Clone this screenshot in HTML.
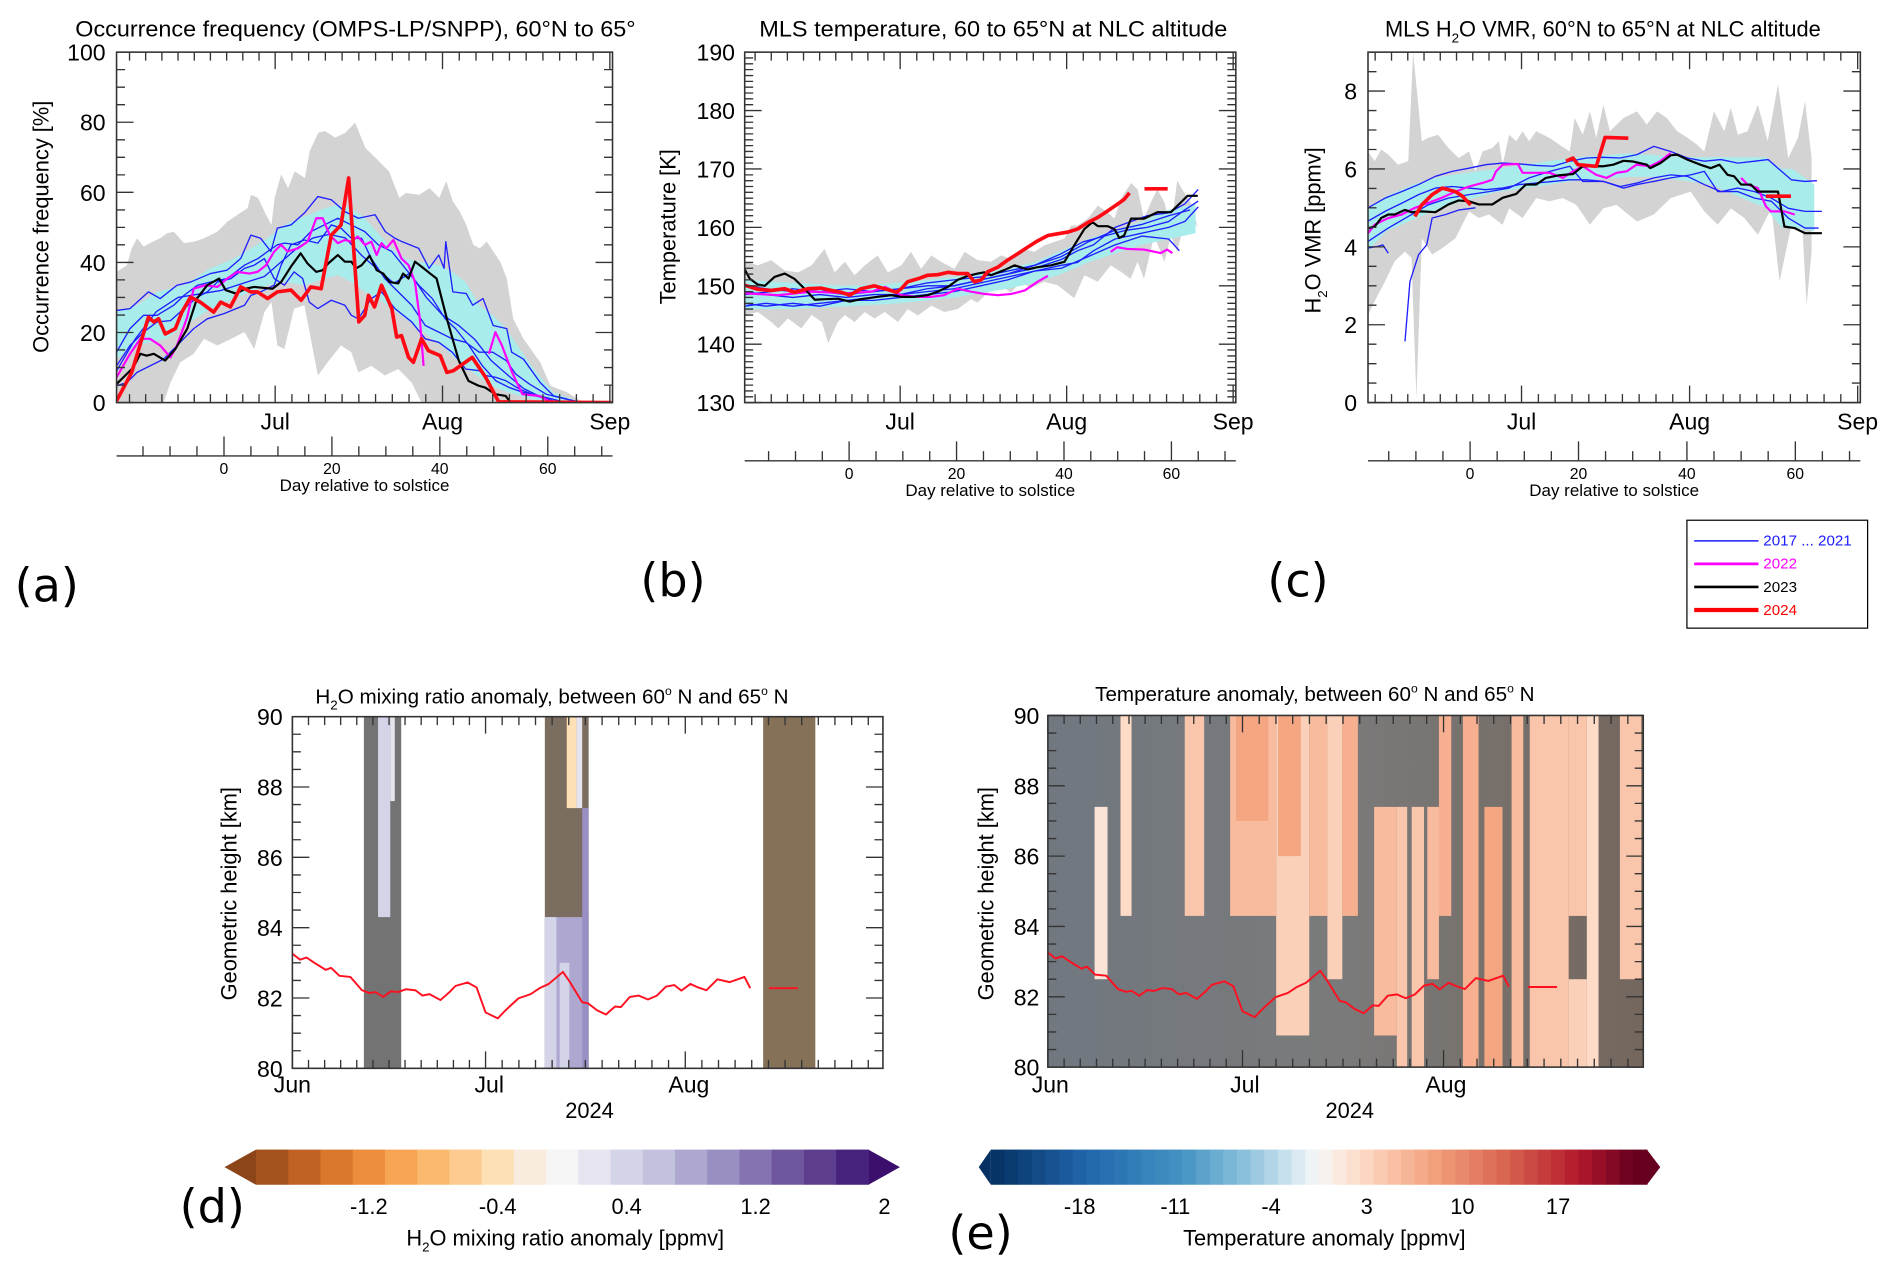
<!DOCTYPE html>
<html><head><meta charset="utf-8"><title>NLC climatology figure</title>
<style>
html,body{margin:0;padding:0;background:#fff;}
svg{display:block;font-family:"Liberation Sans",sans-serif;}
</style></head>
<body>
<svg id="fig" xmlns="http://www.w3.org/2000/svg" width="1892" height="1266" viewBox="0 0 1560 1044">
<defs>
<linearGradient id="eGrey" x1="0" x2="1" y1="0" y2="0">
<stop offset="0" stop-color="#717880"/><stop offset="0.5" stop-color="#7a7a7a"/><stop offset="1" stop-color="#74675d"/>
</linearGradient>
</defs>
<text x="12" y="496" font-size="38" font-family="DejaVu Sans, sans-serif">(a)</text>
<text x="528" y="492" font-size="38" font-family="DejaVu Sans, sans-serif">(b)</text>
<text x="1045" y="492" font-size="38" font-family="DejaVu Sans, sans-serif">(c)</text>
<text x="148" y="1008" font-size="38" font-family="DejaVu Sans, sans-serif">(d)</text>
<text x="782" y="1030" font-size="38" font-family="DejaVu Sans, sans-serif">(e)</text>
<text x="62" y="30" font-size="18" textLength="462" lengthAdjust="spacingAndGlyphs">Occurrence frequency (OMPS-LP/SNPP), 60°N to 65°</text>
<text x="626" y="30" font-size="18" textLength="386" lengthAdjust="spacingAndGlyphs">MLS temperature, 60 to 65°N at NLC altitude</text>
<text x="1142" y="30" font-size="18">MLS H<tspan font-size="11" dy="5">2</tspan><tspan dy="-5">O VMR, 60°N to 65°N at NLC altitude</tspan></text>
<text x="260" y="580" font-size="17">H<tspan font-size="11" dy="5">2</tspan><tspan dy="-5">O mixing ratio anomaly, between 60</tspan><tspan font-size="10" dy="-7">o</tspan><tspan dy="7"> N and 65</tspan><tspan font-size="10" dy="-7">o</tspan><tspan dy="7"> N</tspan></text>
<text x="903" y="578" font-size="17">Temperature anomaly, between 60<tspan font-size="10" dy="-7">o</tspan><tspan dy="7"> N and 65</tspan><tspan font-size="10" dy="-7">o</tspan><tspan dy="7"> N</tspan></text>
<text transform="translate(40,187) rotate(-90)" text-anchor="middle" font-size="18">Occurrence frequency [%]</text>
<text transform="translate(557,187) rotate(-90)" text-anchor="middle" font-size="18">Temperature [K]</text>
<text transform="translate(1089,190) rotate(-90)" text-anchor="middle" font-size="18">H<tspan font-size="11" dy="5">2</tspan><tspan dy="-5">O VMR [ppmv]</tspan></text>
<text transform="translate(195,737) rotate(-90)" text-anchor="middle" font-size="18">Geometric height [km]</text>
<text transform="translate(819,737) rotate(-90)" text-anchor="middle" font-size="18">Geometric height [km]</text>
<g>
<rect x="1391" y="429" width="149" height="89" fill="#fff" stroke="#000" stroke-width="1"/>
<line x1="1397" y1="446" x2="1450" y2="446" stroke="#1a1aff" stroke-width="1.2"/>
<text x="1454" y="450" font-size="12.5" fill="#1a1aff">2017 ... 2021</text>
<line x1="1397" y1="465" x2="1450" y2="465" stroke="#ff00ff" stroke-width="2.2"/>
<text x="1454" y="469" font-size="12.5" fill="#ff00ff">2022</text>
<line x1="1397" y1="484" x2="1450" y2="484" stroke="#000" stroke-width="2.2"/>
<text x="1454" y="488" font-size="12.5" fill="#000">2023</text>
<line x1="1397" y1="503" x2="1450" y2="503" stroke="#ff0000" stroke-width="3.5"/>
<text x="1454" y="507" font-size="12.5" fill="#ff0000">2024</text>
</g>
<text x="466" y="1027" text-anchor="middle" font-size="18">H<tspan font-size="11" dy="5">2</tspan><tspan dy="-5">O mixing ratio anomaly [ppmv]</tspan></text>
<text x="1092" y="1027" text-anchor="middle" font-size="18">Temperature anomaly [ppmv]</text>
</svg>
<script>
const aGreyTop=[[0.6,37.3],[2.5,39.2],[3.4,44],[4.4,46.9],[5.6,44.5],[6.8,45.5],[8.7,46.9],[9.9,48.3],[11.2,48.8],[13.1,45.5],[15,45.9],[16.8,46.9],[19.3,48.8],[21.2,51.7],[23,53.6],[24.9,55.5],[25.5,59.3],[26.8,58.4],[28.3,53.6],[29.3,50.7],[29.9,58.4],[31.1,65.1],[32.4,61.2],[33.6,66],[35.5,64.1],[36.4,71.8],[38,77],[39.2,77.5],[41.1,75.6],[43,77],[44.8,79.9],[46.7,72.7],[49.2,68.9],[51.1,66],[53,58.4],[54.2,59.8],[56.7,59.3],[58.6,61.2],[60.4,58.4],[61.7,63.2],[62.9,57.4],[64.2,54.5],[65.4,50.7],[66.7,45],[67.9,44],[69.2,45.9],[71.7,40.2],[72.9,35.4],[74.1,23.9],[76,18.2],[79.1,11.5],[81,4.8],[84.1,2.9],[86.6,0.5],[92.5,0]];
const aGreyBot=[[0.6,0],[9.3,0],[10.6,5.7],[12.4,11.5],[14.9,13.9],[16.8,18.2],[19.3,16.3],[21.8,18.2],[24.3,20.1],[26.1,15.3],[28,25.8],[29.3,28.7],[30.4,16.3],[31.7,15.3],[33.5,26.8],[35.4,27.8],[37.9,7.7],[39.7,11.5],[42.2,16.3],[44.1,14.4],[45.4,8.6],[47.8,10.5],[50.3,7.7],[52.8,9.6],[55.3,5.7],[57.1,0],[92.5,0]];
const aCyanTop=[[0.6,25.8],[4.4,27.8],[8.1,31.6],[13.1,33.5],[18,38.3],[22.4,41.1],[25.5,44],[28.6,46.9],[31.7,50.7],[35.4,53.1],[39.2,55.5],[41.6,56.5],[44.1,55.5],[46.6,52.6],[49.1,48.3],[51.6,44],[54.1,41.1],[56.6,40.2],[60.3,39.2],[62.8,37.3],[65.3,34.4],[67.8,27.8],[70.3,24.9],[72.8,21.1],[75.3,15.3],[78.4,8.6],[81.5,2.9],[85.9,0.5]];
const aCyanBot=[[0.6,12.4],[4.4,16.3],[6.8,17.2],[9.9,18.2],[13.1,22],[16.2,24.9],[19.3,27.8],[22.4,29.7],[25.5,31.6],[28.6,33.5],[31.7,34.4],[35.4,33.5],[39.2,35.4],[41.6,36.4],[44.1,34.4],[46.6,31.6],[49.1,29.7],[51.6,26.8],[54.1,23.9],[56.6,21.1],[59.1,18.2],[61.6,15.3],[64.1,11.5],[66.6,8.6],[69.1,5.7],[71.5,3.8],[75.3,1.9],[79,0.5],[85.9,0.2]];
const aBlue1=[[0.6,26.3],[3.1,26.8],[6.5,31.6],[8.7,29.7],[11.8,33.5],[14.3,34.4],[18,36.8],[21.1,37.8],[23.6,41.1],[25.5,47.8],[27.3,46.9],[29.2,43.1],[30.4,49.8],[32.9,50.7],[35.4,54.1],[37.9,58.8],[40.4,57.9],[42.9,54.5],[45.4,52.6],[48.5,53.6],[50.4,48.8],[52.2,46.9],[53.5,45.9],[56.6,44],[58.5,38.3],[60.3,42.1],[61.3,38.3],[61.6,45.9],[62.9,31.6],[65.4,31.1],[66.6,27.8],[68.5,29.7],[70.4,22],[72.9,21.1],[73.8,14.4],[76,12.4],[79.1,5.7],[81.6,1.9],[84.1,1]];
const aBlue2=[[0.6,10.5],[3.1,16.3],[5.6,20.1],[8.1,23],[10.6,23.4],[13.1,26.8],[15.6,30.1],[17.4,31.6],[19.3,34.4],[21.8,35.4],[24.3,38.3],[26.1,39.2],[28,41.1],[29.8,35.4],[31.7,33.5],[33.5,37.3],[35.1,35.4],[36.3,28.7],[37.9,26.8],[40.4,29.2],[42.9,27.8],[44.1,24.9],[45.4,23.9],[47.8,29.7],[49.7,31.6],[52.2,26.8],[55.3,23],[57.8,18.2],[60.3,17.2],[62.8,14.4],[65.3,9.6],[67.8,9.1],[69,7.7],[70.9,7.2],[72.8,6.2],[75.3,3.8],[78.4,1.9],[81.5,0.5]];
const aBlue3=[[0.6,4.8],[2.5,5.7],[4.4,8.6],[6.8,10.5],[9.3,12.4],[12.4,17.2],[14.9,21.1],[17.4,23.9],[20.5,25.4],[24.3,27.8],[25.5,30.6],[27.3,31.6],[29.8,33.5],[31.1,39.2],[32.9,45],[35.4,46.4],[37.9,45.5],[40.4,50.7],[42.2,49.8],[44.1,46.9],[46,46.9],[47.8,41.1],[50.3,35.4],[52.8,31.6],[55.3,27.8],[57.8,22],[60.3,20.1],[62.8,18.2],[65.3,17.2],[67.8,14.4],[70.3,14.4],[72.8,12],[74.6,8.1],[77.1,5.3],[80.2,2.4],[83.9,1],[86.4,0.2]];
const aBlue4=[[0.6,14.4],[3.1,21.1],[5.6,24.9],[8.1,24.9],[11.2,27.8],[13.1,30.6],[15.6,33.5],[18,34.4],[21.1,35.4],[24.3,39.2],[26.8,41.1],[28.6,43.1],[30.4,45],[31.7,45.5],[34.2,45],[36.6,48.8],[39.1,50.7],[41.6,52.6],[44.1,50.7],[46.6,48.8],[49.1,45],[51.6,43.1],[54.1,38.3],[56.6,33.5],[59.1,29.7],[61.5,23.9],[63.4,21.1],[65.9,16.3],[68.4,10.5],[70.9,6.2],[73.4,4.3],[75.9,2.9],[79,1.9],[82.7,0.5]];
const aBlue5=[[0.6,9],[4,18],[8,26],[12,30],[16,31],[20,32],[24,34],[28,36],[31,40],[34,44],[37,47],[40,48],[43,47],[46,42],[49,38],[52,34],[55,37],[58,30],[61,25],[64,22],[67,18],[70,12],[73,8],[76,4],[80,1]];
const aMagenta1=[[0.6,7.2],[3.1,13.9],[5,18.2],[6.8,18.2],[8.7,16.3],[10.6,12.9],[11.8,16.3],[13.7,24.4],[14.9,32.5],[17.1,33.5],[19.3,33],[21.1,35.4],[23,37.3],[25.2,36.8],[26.7,37.3],[28.3,39.2],[29.8,43.1],[31.1,45],[32.3,43.1],[34.2,44],[36,45.9],[37.6,52.6],[38.8,52.6],[40.1,47.8],[41.6,45.5],[42.9,46.4],[44.1,45.9],[45.3,47.4],[46.6,45],[47.8,45.9],[48.8,42.1],[49.7,45.5],[50.6,44],[51.9,46.4],[53.4,41.1],[54.7,39.2],[55.9,34.4],[56.8,23.9],[57.5,10.5]];
const aMagenta2=[[69.6,13.9],[70.8,20.1],[72,16.3],[73.9,8.6],[75.8,2.4],[78.9,1.9],[80.7,0.5],[84,0]];
const aBlack=[[0.6,5.3],[3.7,10],[5,13.9],[6.2,13.4],[7.5,13.9],[9.6,12],[11.5,15.3],[13.7,21.1],[15.5,29.7],[17.4,33.5],[19.6,35.4],[20.8,32.1],[22.7,31.1],[24.5,32.5],[26.1,33],[29.5,32.5],[31.1,34.4],[32.9,38.8],[34.7,42.6],[36,39.7],[37.6,37.3],[38.8,37.8],[39.8,39.7],[41.6,42.1],[42.9,40.2],[44.1,40.2],[45,38.3],[46,39.2],[47.5,41.9],[48.8,37.8],[50,36.8],[51.2,34.4],[52.8,34],[53.7,36.8],[54.7,35.4],[55.9,40.2],[57.1,38.8],[58.7,36.8],[59.9,35.4],[61.8,23.9],[64,12],[65.8,6.2],[67.7,4.8],[68.9,4.3],[70.8,2.4],[72.7,1.9],[73.6,0],[80,0]];
const aRed=[[0.6,0.5],[3.4,8.6],[6.5,24.4],[7.5,23],[8.4,23.9],[9.6,19.6],[11.5,21.1],[12.7,25.8],[14.3,30.1],[16.1,28.7],[18.6,25.8],[19.9,28.7],[21.7,27.3],[23.6,33],[25.5,31.6],[26.7,31.6],[28.6,29.7],[30.4,31.6],[32.9,32.1],[34.8,29.2],[36.6,33],[38.5,32.5],[40.4,47.8],[42.2,50.7],[43.6,64.1],[45.5,23],[46.6,24.9],[47.3,30.6],[48.4,27.3],[49.7,33.5],[51.6,26.8],[52.5,18.7],[53.4,19.1],[54.7,12.9],[55.6,11.5],[57.1,18.2],[58.4,14.8],[60.6,13.4],[61.8,8.6],[63,9.1],[66.5,12.9],[69,7.2],[71.4,0.2],[92.3,0]];
const aYTicks=[0,20,40,60,80,100];

const bGreyTop=[[1.05,154.1],[3.5,153.5],[6,154.4],[8.5,152.6],[11,152.3],[13.5,153.5],[15.9,156.3],[17.8,152.3],[19.7,154.1],[21.5,151.8],[23.4,153.5],[25.8,155.2],[27.7,152.3],[30.2,153.5],[32,155.8],[33.9,152.9],[35.8,155.2],[37.6,154.1],[40.1,152.9],[42,155.8],[44.4,154.4],[46.9,154.1],[48.8,155.2],[50.6,154.6],[53.1,156.3],[55,155.8],[56.8,156.9],[58.7,157.5],[60.6,158.1],[61.8,160.3],[63,160.3],[64.9,161.5],[66.8,163.7],[68.6,162.6],[69.9,161.5],[71.1,164.9],[73,167.6],[74.2,166.5],[75.4,161.5],[76.7,164.3],[77.9,166.5],[79.2,164.3],[80.4,159.7],[81.6,168],[82.9,165.9],[84.1,164.3],[85.4,160]];
const bGreyBot=[[1.05,145],[3.5,145.5],[6,143.8],[7.3,142.7],[9.1,144.4],[11.6,142.7],[13.5,145],[15.4,143.8],[16.6,140.2],[18.4,143.8],[19.7,145],[21.5,143.8],[23.4,145.5],[25.2,144.4],[27.1,145.5],[29.6,143.8],[31.4,146],[33.3,144.9],[35.8,146.6],[38.2,145.5],[40.7,146],[43.2,147.7],[44.4,147.1],[46.3,148.8],[48.8,150.1],[50.6,148.8],[52.5,150.7],[54.3,149.6],[56.8,150.7],[59.3,150.1],[62.4,147.9],[64.3,151.8],[66.8,150.7],[69.2,153.5],[71.1,152.4],[72.9,151.2],[74.2,154.1],[75.4,151.2],[77.3,158.6],[79.2,154.1],[80.4,158.6],[81.6,155.8],[82.9,160.8],[84.1,162],[85.4,160]];
const bCyanTop=[[1.05,151],[10,150.5],[20,150],[30,150.5],[40,151.5],[50,153],[55,154],[60,156],[65,158],[70,159.5],[75,161],[80,163],[85,164]];
const bCyanBot=[[1.05,146],[10,146],[20,146.5],[30,147],[40,148],[50,149.5],[55,150.5],[60,152],[65,154],[70,155.5],[75,157],[80,158],[85,159]];
const bBlue1=[[1.05,149],[5,148.5],[10,148],[15,148.5],[20,148],[25,148.5],[30,148.5],[35,149.5],[40,150],[45,151],[50,152],[55,153],[60,154.5],[63,156],[66,157],[70,160],[73,161],[76,162],[80,162.5],[83,164],[85.5,166.5]];
const bBlue2=[[1.05,147],[5,146.5],[10,147],[15,146.5],[20,147.5],[25,147.5],[30,148],[35,148.5],[40,149],[45,150],[50,151],[55,152.5],[60,153.5],[63,154],[66,156],[70,158],[75,159],[80,160],[83,161],[85.5,163.5]];
const bBlue3=[[1.05,148.5],[6,149],[10,149.5],[15,149],[20,149.5],[25,149],[30,149.5],[35,150.5],[40,151],[45,151.5],[50,152.5],[55,153.5],[60,155.5],[64,157.5],[68,158.5],[72,159.5],[76,160],[80,161],[83,163],[85.5,164.5]];
const bBlue4=[[1.05,146.5],[5,147],[10,146.5],[15,147],[20,147.5],[25,148],[30,148.5],[35,149],[40,149.5],[45,150.5],[50,151.5],[55,152.5],[60,153],[65,155],[70,157],[75,158.5],[80,158],[82,156]];
const bBlue5=[[1.05,150],[5,149.5],[10,149],[15,149],[20,148.5],[25,149],[30,149.5],[35,150],[40,150],[45,151],[50,152],[55,153.5],[60,155],[65,157.5],[70,159.5],[75,160.5],[80,162],[84,163]];
const bMagenta1=[[1.05,148.7],[7.3,148.4],[13.5,149],[19.7,148.7],[24.7,149],[27.2,149.8],[30.2,148.4],[33.3,148.1],[35.8,148.1],[38.2,148.4],[40.7,149.5],[43.2,149],[45.7,148.6],[48.2,148.4],[50.7,148.6],[53.2,149.2],[55.6,150.7],[57.5,151.7]];
const bMagenta2=[[69.2,155.8],[70.4,156.6],[72.3,156.3],[75.4,156.2],[78.5,155.6],[79.7,156.2],[80.7,155.6]];
const bBlack=[[1.05,152.8],[2,151.2],[3.5,150.2],[4.8,150],[6.6,151.5],[8.5,152.1],[10.3,151.2],[12.2,149.5],[14.1,147.6],[15.9,147.7],[18.4,147.8],[20.6,147.3],[22.7,147.7],[25.8,148.1],[28.3,148.4],[30.2,148.1],[32.7,148.1],[35.1,148.4],[37,149],[38.9,149.8],[40.7,151],[42.6,151.7],[44.4,152.1],[45.7,152.3],[46.9,151.8],[49.4,152.7],[51.3,153.5],[53.7,152.8],[55.6,153.2],[58.1,153.5],[60.6,154.1],[62.4,156.9],[64.3,159.7],[65.8,160.9],[66.8,160.2],[68.6,160.2],[69.9,159.7],[70.8,158.2],[71.7,158.6],[73,161.5],[75.4,161.5],[77.9,162.6],[80.4,162.6],[82.3,164.3],[83.5,165.4],[85.4,165.4]];
const bRed1=[[1.05,150.1],[3.5,149.4],[6,149.2],[8.5,149.5],[10.3,148.9],[12.8,149.5],[15.3,149.6],[17.2,149.2],[19,148.9],[20.6,148.4],[22.7,149.5],[25.2,150],[27.1,149.5],[29.3,148.9],[30.2,149.5],[31.4,150.7],[33.3,151.2],[35.1,151.8],[37,151.9],[38.9,152.3],[40.7,152.1],[42.6,152.1],[43.8,150.7],[45.1,151],[46.3,152.4],[48.2,153.2],[50,154.4],[51.9,155.5],[53.7,156.6],[55.6,157.7],[57.5,158.6],[59.3,158.9],[61.2,159.2],[63,159.7],[64.9,160.8],[66.8,161.7],[68.6,162.8],[70.5,164],[71.7,164.8],[72.7,165.9]];
const bRed2=[[75.5,166.6],[79.8,166.6]];
const bYTicks=[130,140,150,160,170,180,190];

const cGreyTop=[[1.67,6.45],[2.9,6.2],[4.1,6.5],[5.4,6.37],[7.2,6.11],[9.1,6.2],[10,9],[11.6,6.71],[12.8,6.8],[14.6,6.88],[16.5,6.54],[18.4,6.28],[20.3,6.45],[21.5,5.94],[22.8,6.45],[24.6,6.54],[25.8,6.71],[26.5,6.11],[27.7,6.88],[29,6.71],[30.2,6.97],[31.4,6.71],[32.7,6.97],[35.1,6.8],[37,6.62],[38.9,6.45],[39.8,7.31],[41.3,6.88],[42.6,7.48],[43.8,6.8],[45.1,7.65],[46.3,6.97],[48.8,7.31],[51.3,7.48],[53.1,7.14],[55,7.48],[56.8,7.31],[58.7,6.97],[60.6,6.8],[62.4,6.62],[63.7,6.45],[65.5,7.48],[67.4,6.97],[68.6,7.57],[69.9,6.88],[71.7,6.97],[73.6,7.65],[75.4,6.71],[77.3,8.17],[79.2,6.28],[81,6.8],[82.3,7.74],[83.5,6.28]];
const cGreyBot=[[1.67,2.25],[3.5,2.77],[4.8,3.11],[6.6,3.63],[8.5,3.88],[9.7,3.71],[10.6,0.11],[11.6,4.22],[13.5,3.8],[15.4,3.97],[17.8,4.22],[20.3,4.91],[22.1,4.74],[24,4.83],[26.5,4.57],[27.7,4.99],[30.2,4.74],[32.7,5.25],[35.1,5.17],[37.6,5.25],[40.1,5.08],[42.6,4.57],[45.1,4.99],[47.5,5.08],[51.3,4.65],[54.4,4.83],[57.5,5.25],[61.2,5.42],[63.7,4.91],[66.2,4.57],[68.6,4.99],[71.1,4.74],[73.6,4.31],[76.1,4.99],[77.6,3.11],[79.8,4.57],[81.6,4.99],[82.6,2.51],[83.5,3.88]];
const cCyanTop=[[1.67,5],[5,5.3],[10,5.6],[15,5.8],[20,5.9],[25,6],[30,6.1],[35,6.2],[40,6.3],[45,6.35],[50,6.4],[55,6.35],[60,6.3],[65,6.3],[70,6.3],[75,6.3],[78,6],[80,6],[84,5.6]];
const cCyanBot=[[1.67,3.9],[5,4.4],[10,4.7],[15,5],[20,5.2],[25,5.4],[30,5.5],[35,5.6],[40,5.7],[45,5.75],[50,5.8],[55,5.8],[60,5.7],[65,5.6],[70,5.3],[75,5],[78,4.5],[80,4.5],[84,4.4]];
const cBlue1=[[8.5,1.57],[9.4,3.11],[11,3.8],[12.5,4.05],[13.5,4.74],[16,4.83],[18.5,4.95],[21.5,5]];
const cBlue2=[[1.67,3.97],[3.5,4.01],[4.4,4.05],[5.4,3.84]];
const cBlue3=[[1.67,5],[4.8,5.25],[7.9,5.42],[11,5.6],[14.1,5.81],[17.2,5.94],[20.3,6.02],[23.4,6.11],[26.5,6.15],[29.6,6.13],[32.7,6.09],[35.8,6.07],[38.9,6.2],[42,6.28],[45.1,6.3],[48.2,6.28],[51.3,6.37],[54.4,6.58],[57.5,6.45],[60.6,6.28],[63.7,6.2],[66.8,6.24],[69.9,6.15],[73,6.2],[75.5,6.24],[77.3,6.02],[79.8,5.72],[82.3,5.68],[84.5,5.7]];
const cBlue4=[[1.67,4.66],[4.8,4.91],[7.9,5.12],[11,5.34],[14.1,5.51],[17.2,5.55],[20.3,5.51],[23.4,5.47],[26.5,5.51],[29.6,5.6],[32.7,5.64],[35.8,5.68],[38.9,5.72],[42,5.72],[45.1,5.68],[48.2,5.55],[51.3,5.64],[54.4,5.77],[57.5,5.85],[60.6,5.81],[63.7,5.6],[66.8,5.42],[69.9,5.51],[73,5.42],[76.1,5.25],[79.2,4.99],[82.3,4.91],[85.4,4.91]];
const cBlue5=[[1.67,4.14],[5.4,4.48],[9.1,4.78],[12.8,5.08],[16.5,5.25],[20.3,5.34],[24,5.42],[27.7,5.51],[31.4,5.77],[35.2,5.94],[38.9,6.07],[41.3,5.68],[45.1,5.68],[48.8,5.51],[51.3,5.6],[54.4,5.68],[57.5,5.77],[61.2,5.85],[63.7,5.94],[66.2,5.42],[69.9,5.42],[73,5.25],[76.1,5.17],[79.2,4.74],[82.3,4.48],[84.8,4.48]];
const cMagenta1=[[1.67,4.35],[2.9,4.57],[5.4,4.74],[7.9,4.83],[10.3,5],[12.8,5.13],[15.3,5.26],[17.8,5.42],[20.3,5.55],[22.8,5.64],[24.6,5.72],[25.3,5.94],[26.5,6.11],[29.3,6.13],[30.2,5.9],[32.1,5.9],[35.2,5.9],[37.6,5.77],[39.5,5.94],[41.3,6.07],[43.8,5.85],[45.7,5.77],[47.5,5.9],[49.4,5.94],[51.2,6.11],[53.7,6.07],[55.6,6.2],[57.5,6.41]];
const cMagenta2=[[70.5,5.77],[71.7,5.6],[73.6,5.51],[75.1,5.04],[76,4.91],[78.5,4.91],[80.4,4.83]];
const cBlack=[[1.67,4.48],[2.9,4.52],[4.1,4.74],[5.4,4.83],[6.6,4.83],[8.5,4.95],[9.7,4.89],[11.6,4.91],[14.1,4.89],[16.5,5.09],[18.4,5.19],[20.3,5.17],[22.1,5.09],[24.6,5.09],[26.5,5.26],[29,5.36],[30.8,5.6],[32.7,5.6],[34.5,5.77],[37,5.84],[39.5,5.87],[41.3,6.07],[43.2,6.07],[45.1,6.07],[46.9,6.11],[48.8,6.21],[50.6,6.19],[53.1,6.11],[53.7,6.02],[55.6,6.15],[57.5,6.35],[58.7,6.37],[60.6,6.24],[63,6.11],[64.9,6.02],[66.5,6.11],[68,5.85],[69.2,5.81],[70.5,5.6],[72.3,5.6],[73.6,5.42],[77.3,5.42],[78.5,4.52],[80.4,4.48],[82.3,4.35],[85.4,4.35]];
const cRed1=[[10.3,4.78],[11.6,5.08],[13.5,5.34],[15.4,5.51],[17.8,5.42],[19.1,5.3],[20.6,5.08]];
const cRed2=[[38.2,6.2],[39.5,6.28],[40.4,6.11],[43.8,6.07],[45.4,6.81],[49.7,6.79]];
const cRed3=[[75.1,5.3],[79.7,5.3]];
const cYTicks=[0,2,4,6,8];

const nlcDays=[0,1.2,2.2,3.4,5.2,6,7.3,9,10.8,12,12.9,14.1,15.3,16.4,17.6,19.1,20.2,21.3,23,24.4,25.3,27.2,28.6,30,31.9,33.1,35.1,37,38.4,39.8,42,43.1,45,45.9,47.3,48.7,50.1,51,52.4,53.8,55.2,56.6,58,59.3,60.4,61.8,63,64.3,66,67.9,70.2,71.1];
const nlcHeight=[83.26,83.09,83.15,83,82.8,82.86,82.63,82.6,82.22,82.14,82.17,82.03,82.19,82.17,82.25,82.22,82.07,82.11,81.94,82.17,82.34,82.44,82.3,81.59,81.42,81.65,81.99,82.11,82.28,82.4,82.74,82.45,81.88,81.85,81.65,81.53,81.76,81.74,82.03,82.07,81.96,82.07,82.32,82.37,82.21,82.4,82.3,82.22,82.53,82.45,82.6,82.28];
const nlcSegDays=[74,78.5];
const nlcSegHeight=[82.28,82.28];
const dBands=[[11.1,16.9],[39.2,46.0],[73.1,81.2]];
const dBandTint=['#737373','#7b6e61','#857058'];
const dCells=[[13.3,15.2,90,84.3,0.3],[15.2,15.9,90,87.6,0.1],[39.2,46.0,84.3,80,0.7],[39.2,41.0,84.3,80,0.3],[42.6,44.1,90,87.4,-0.5],[44.1,45,90,87.4,0.1],[45,46,87.4,80,0.9],[41.5,43.0,83,80,0.4]];
const dCbValues=[-1.8,-1.6,-1.4,-1.2,-1.0,-0.8,-0.6,-0.4,-0.2,0,0.2,0.4,0.6,0.8,1.0,1.2,1.4,1.6,1.8];
const dCbLabels=['-1.2','-0.4','0.4','1.2','2'];
const dCbLabelVals=[-1.2,-0.4,0.4,1.2,2.0];
const eCells=[[7.2,9.2,87.4,82.5,2],[11.2,12.9,90,84.3,3],[21.1,24.1,90,84.3,5],[28.1,35.2,90,84.3,6],[29,34,90,87,8],[35.2,40.3,90,80.9,4],[35.5,39,90,86,8],[40.3,43.1,90,84.3,6],[43.1,45.4,90,82.5,4],[45.4,47.8,90,84.3,7],[50.3,53.8,87.4,80.9,6],[53.8,55.4,87.4,80,5],[56.1,58,87.4,80,5],[58.5,60.3,87.4,82.5,6],[60.3,62.2,90,84.3,7],[64,66.4,90,80,7],[67.3,70.1,87.4,80,8],[71.5,73.3,90,80,6],[74.3,80.3,90,80,5],[80.3,83.1,90,84.3,5],[80.3,83.1,82.5,80,4],[83.1,84.9,90,80,3],[88.2,91.5,90,82.5,5]];
const eCbMin=-24, eCbMax=23;
const eCbLabels=['-18','-11','-4','3','10','17'];
const eCbLabelVals=[-18,-11,-4,3,10,17];

const NS='http://www.w3.org/2000/svg';
const svg=document.getElementById('fig');
function mk(tag,parent){const e=document.createElementNS(NS,tag);parent.appendChild(e);return e;}
function at(e,o){for(const k in o)e.setAttribute(k,o[k]);return e;}
function lin(d0,d1,r0,r1){return v=>r0+(v-d0)*(r1-r0)/(d1-d0);}
const MONTH_START=[0,30,61,92];
let clipN=0;

function makePanel(name,x0,x1,dmin,dmax,y0,y1,vmin,vmax){
  const X=lin(dmin,dmax,x0,x1), Y=lin(vmin,vmax,y0,y1);
  const defs=svg.querySelector('defs');
  const cp=mk('clipPath',defs); cp.setAttribute('id','clip'+(++clipN));
  at(mk('rect',cp),{x:x0,y:y1,width:x1-x0,height:y0-y1});
  const g=mk('g',svg);
  
  
  g.setAttribute('clip-path','url(#clip'+clipN+')');
  return {X,Y,g,x0,x1,y0,y1,dmin,dmax,vmin,vmax,name};
}
function path(pts,P){return pts.map((p,i)=>(i?'L':'M')+P.X(p[0]).toFixed(1)+','+P.Y(p[1]).toFixed(1)).join('');}
function band(P,top,bot,fill,nm){
  const pts=top.concat(bot.slice().reverse());
  const e=mk('path',P.g);
  
  
  at(e,{d:path(pts,P)+'Z',fill:fill,stroke:'none'});
}
function line(P,pts,color,w,nm){
  const e=mk('path',P.g);
  
  
  at(e,{d:path(pts,P),fill:'none',stroke:color,'stroke-width':w,'stroke-linejoin':'round'});
}
function frame(P,yMinor,yMajor,yLabels,labelX,monthLabels,xDiv){
  const g=mk('g',svg);
  
  
  at(mk('rect',g),{x:P.x0,y:P.y1,width:P.x1-P.x0,height:P.y0-P.y1,fill:'none',stroke:'#333','stroke-width':1.3});
  let d='';
  for(let m=0;m<MONTH_START.length-1;m++){
    const a=MONTH_START[m],b=MONTH_START[m+1];
    for(let k=0;k<xDiv;k++){
      const day=a+(b-a)*k/xDiv; if(day<P.dmin||day>P.dmax)continue;
      const x=P.X(day).toFixed(1), L=k===0?14:7;
      d+='M'+x+','+P.y0+'v-'+L+'M'+x+','+P.y1+'v'+L;
    }
  }
  if(92>=P.dmin&&92<=P.dmax){const x=P.X(92).toFixed(1);d+='M'+x+','+P.y0+'v-14M'+x+','+P.y1+'v14';}
  for(let v=P.vmin;v<=P.vmax+1e-6;v+=yMinor){
    const y=P.Y(v).toFixed(1);
    const maj=Math.abs(v/yMajor-Math.round(v/yMajor))<1e-6, L=maj?14:7;
    d+='M'+P.x0+','+y+'h'+L+'M'+P.x1+','+y+'h-'+L;
  }
  at(mk('path',g),{d:d,stroke:'#333','stroke-width':1.1,fill:'none'});
  yLabels.forEach(v=>{
    const t=mk('text',g);
    
    
    at(t,{x:labelX,y:P.Y(v)+7,'text-anchor':'end','font-size':19});
    t.textContent=String(v);
  });
  monthLabels.forEach(ml=>{
    const t=mk('text',g);
    
    
    at(t,{x:P.X(ml[1])+(ml[3]||0),y:ml[2]+2,'text-anchor':'middle','font-size':19});
    t.textContent=ml[0];
  });
}
function solsticeAxis(P,yLine,nm){
  const g=mk('g',svg);
  
  
  const SOL=20.5;
  let d='M'+P.x0+','+yLine+'H'+P.x1;
  for(let r=-20;r<=75;r+=5){
    const day=SOL+r; if(day<P.dmin||day>P.dmax)continue;
    const x=P.X(day).toFixed(1); d+='M'+x+','+yLine+'v-'+(r%20===0?16:8);
  }
  at(mk('path',g),{d:d,stroke:'#333','stroke-width':1.1,fill:'none'});
  [0,20,40,60].forEach(r=>{
    const t=mk('text',g);
    
    
    at(t,{x:P.X(SOL+r),y:yLine+15,'text-anchor':'middle','font-size':13});
    t.textContent=String(r);
  });
  const t=mk('text',g);
  
  
  at(t,{x:(P.x0+P.x1)/2,y:yLine+29,'text-anchor':'middle','font-size':14});
  t.textContent='Day relative to solstice';
}

const BLUE='#1f1fff', MAG='#ff00ff', RED='#ff0a14', GREY='#d3d3d3', CYAN='#a9ecec';

const PA=makePanel('panel-a',96,505,0.6,92.5,332,43,0,100);
band(PA,aGreyTop,aGreyBot,GREY,'a-range-envelope');
band(PA,aCyanTop,aCyanBot,CYAN,'a-std-band');
[aBlue1,aBlue2,aBlue3,aBlue4,aBlue5].forEach(s=>line(PA,s,BLUE,1.1,'a-line-2017-2021'));
line(PA,aMagenta1,MAG,1.8,'a-line-2022');
line(PA,aMagenta2,MAG,1.8,'a-line-2022');
line(PA,aBlack,'#000',1.8,'a-line-2023');
line(PA,aRed,RED,3,'a-line-2024');
frame(PA,5,20,aYTicks,87,[['Jul',30,352],['Aug',61,352],['Sep',92,352]],10);
solsticeAxis(PA,376,'a-solstice-axis');

const PB=makePanel('panel-b',614,1019,1.05,92.5,332,43,130,190);
band(PB,bGreyTop,bGreyBot,GREY,'b-range-envelope');
band(PB,bCyanTop,bCyanBot,CYAN,'b-std-band');
[bBlue1,bBlue2,bBlue3,bBlue4,bBlue5].forEach(s=>line(PB,s,BLUE,1.1,'b-line-2017-2021'));
line(PB,bMagenta1,MAG,1.8,'b-line-2022');
line(PB,bMagenta2,MAG,1.8,'b-line-2022');
line(PB,bBlack,'#000',1.8,'b-line-2023');
line(PB,bRed1,RED,3,'b-line-2024');
line(PB,bRed2,RED,3,'b-line-2024');
frame(PB,1,10,bYTicks,606,[['Jul',30,352],['Aug',61,352],['Sep',92,352]],10);
solsticeAxis(PB,380,'b-solstice-axis');

const PC=makePanel('panel-c',1128,1534,1.67,92.5,332,43,0,9.0);
band(PC,cGreyTop,cGreyBot,GREY,'c-range-envelope');
band(PC,cCyanTop,cCyanBot,CYAN,'c-std-band');
[cBlue1,cBlue2,cBlue3,cBlue4,cBlue5].forEach(s=>line(PC,s,BLUE,1.1,'c-line-2017-2021'));
line(PC,cMagenta1,MAG,1.8,'c-line-2022');
line(PC,cMagenta2,MAG,1.8,'c-line-2022');
line(PC,cBlack,'#000',1.8,'c-line-2023');
line(PC,cRed1,RED,3,'c-line-2024');
line(PC,cRed2,RED,3,'c-line-2024');
line(PC,cRed3,RED,3,'c-line-2024');
frame(PC,0.5,2,cYTicks,1119,[['Jul',30,352],['Aug',61,352],['Sep',92,352]],10);
solsticeAxis(PC,380,'c-solstice-axis');

const dColors=['#a3521d','#bf6224','#d9772c','#eb8d3b','#f7a455','#fbb86f','#fdcb8f','#fde0b5','#f9ecde','#f5f5f5','#e5e4ef','#d4d4e8','#c2c1de','#aea8d1','#9a8fc2','#8473b0','#6f579f','#5c3d8e','#47227c'];
function dColor(v){let i=Math.round((v+1.8)/0.2);i=Math.max(0,Math.min(dColors.length-1,i));return dColors[i];}
const eStops=[[-24,[5,48,97]],[-17,[33,102,172]],[-10,[67,147,195]],[-5,[146,197,222]],[-2,[209,229,240]],[0,[247,247,247]],[3,[253,219,199]],[8,[244,165,130]],[14,[214,96,77]],[19,[178,24,43]],[23,[103,0,31]]];
function eColor(v){
  for(let i=0;i<eStops.length-1;i++){const a=eStops[i],b=eStops[i+1];
    if(v<=b[0]){const t=Math.max(0,(v-a[0])/(b[0]-a[0]));return 'rgb('+a[1].map((c,j)=>Math.round(c+(b[1][j]-c)*t)).join(',')+')';}}
  return 'rgb(103,0,31)';
}

function nlcLine(P,nm){
  const pts=nlcDays.map((d,i)=>[d,nlcHeight[i]]);
  line(P,pts,'#ff1020',1.6,nm);
  const seg=nlcSegDays.map((d,i)=>[d,nlcSegHeight[i]]);
  line(P,seg,'#ff1020',1.6,nm+'-late');
}

const PD=makePanel('panel-d',241,728,0,91.7,881,591,80,90);
dBands.forEach((b,i)=>{
  const r=mk('rect',PD.g);
  
  
  at(r,{x:PD.X(b[0]),y:PD.Y(90),width:PD.X(b[1])-PD.X(b[0]),height:PD.Y(80)-PD.Y(90),fill:dBandTint[i]});
});
dCells.forEach(c=>{
  const r=mk('rect',PD.g);
  
  
  at(r,{x:PD.X(c[0]),y:PD.Y(c[2]),width:PD.X(c[1])-PD.X(c[0]),height:PD.Y(c[3])-PD.Y(c[2]),fill:dColor(c[4])});
});
nlcLine(PD,'d-nlc-altitude-line');
frame(PD,0.5,2,[80,82,84,86,88,90],233,[['Jun',0,899,0],['Jul',30,899,3],['Aug',61,899,3]],12);
{const t=mk('text',svg);at(t,{x:486,y:922,'text-anchor':'middle','font-size':18});t.textContent='2024';}

const PE=makePanel('panel-e',864,1355,0,91.8,880,590,80,90);
{const r=mk('rect',PE.g);at(r,{x:864,y:590,width:491,height:290,fill:'url(#eGrey)'});}
eCells.forEach(c=>{
  const r=mk('rect',PE.g);
  
  
  at(r,{x:PE.X(c[0]),y:PE.Y(c[2]),width:PE.X(c[1])-PE.X(c[0]),height:PE.Y(c[3])-PE.Y(c[2]),fill:eColor(c[4])});
});
nlcLine(PE,'e-nlc-altitude-line');
frame(PE,0.5,2,[80,82,84,86,88,90],857,[['Jun',0,899,2],['Jul',30,899,2],['Aug',61,899,2]],12);
{const t=mk('text',svg);at(t,{x:1113,y:922,'text-anchor':'middle','font-size':18});t.textContent='2024';}

{
  const g=mk('g',svg);
  const cx0=211,cx1=716,cy0=948,cy1=977,n=dCbValues.length,w=(cx1-cx0)/n;
  const CB=lin(-1.8-0.1,1.8+0.1,cx0,cx1);
  at(mk('path',g),{d:'M'+cx0+','+cy0+'L185,'+(cy0+cy1)/2+'L'+cx0+','+cy1+'Z',fill:'#8c4519'});
  at(mk('path',g),{d:'M'+cx1+','+cy0+'L742,'+(cy0+cy1)/2+'L'+cx1+','+cy1+'Z',fill:'#3b0f6b'});
  dCbValues.forEach((v,i)=>{const r=mk('rect',g);at(r,{x:CB(v-0.1),y:cy0,width:w+0.5,height:cy1-cy0,fill:dColor(v)});});
  dCbLabels.forEach((s,i)=>{const t=mk('text',g);at(t,{x:CB(dCbLabelVals[i]),y:1001,'text-anchor':'middle','font-size':18});t.textContent=s;});
}
{
  const g=mk('g',svg);
  const cx0=817,cx1=1358,cy0=948,cy1=977;
  const CB=lin(eCbMin,eCbMax+1,cx0,cx1), w=CB(1)-CB(0);
  at(mk('path',g),{d:'M'+cx0+','+cy0+'L807,'+(cy0+cy1)/2+'L'+cx0+','+cy1+'Z',fill:eColor(-24)});
  at(mk('path',g),{d:'M'+cx1+','+cy0+'L1369,'+(cy0+cy1)/2+'L'+cx1+','+cy1+'Z',fill:eColor(23)});
  for(let v=eCbMin;v<=eCbMax;v++){const r=mk('rect',g);at(r,{x:CB(v),y:cy0,width:w+0.5,height:cy1-cy0,fill:eColor(v+0.5)});}
  eCbLabels.forEach((s,i)=>{const t=mk('text',g);at(t,{x:CB(eCbLabelVals[i])+w/2,y:1001,'text-anchor':'middle','font-size':18});t.textContent=s;});
}
</script>
</body></html>
